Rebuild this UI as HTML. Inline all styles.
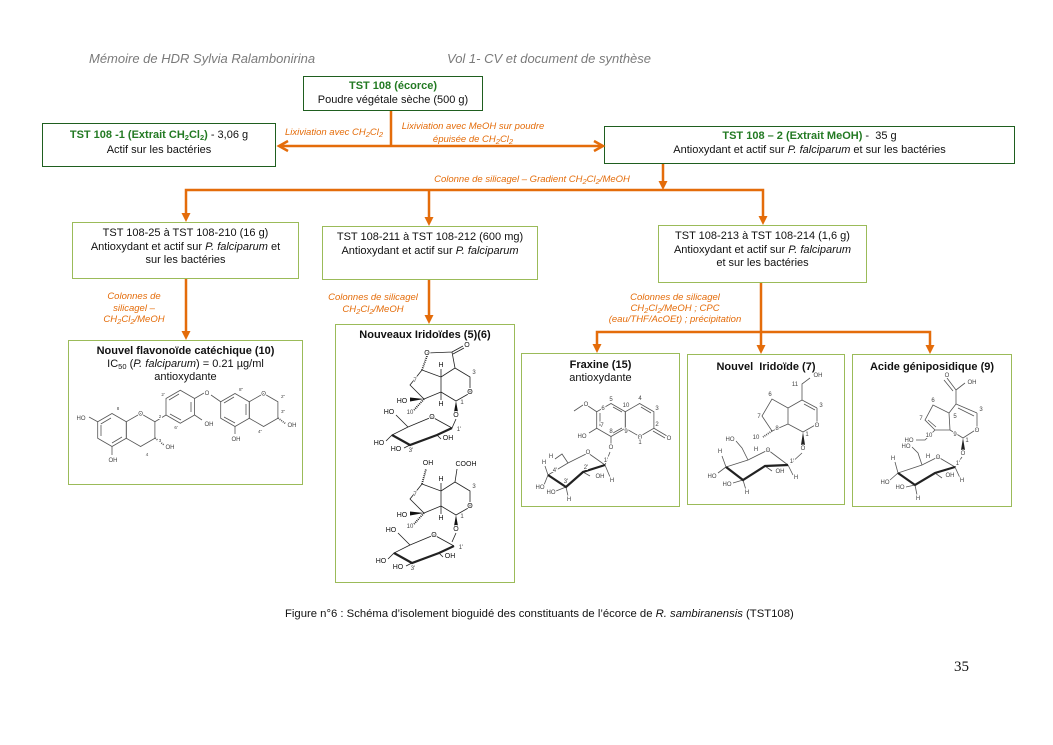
<!DOCTYPE html>
<html><head><meta charset="utf-8">
<style>
html,body{margin:0;padding:0;background:#fff;}
body{width:1053px;height:745px;position:relative;overflow:hidden;font-family:"Liberation Sans",Arial,sans-serif;color:#111;}
.a{position:absolute;}
.hdr{font-style:italic;font-size:13px;color:#7a7a7a;line-height:16px;white-space:nowrap;}
.box{position:absolute;box-sizing:border-box;text-align:center;font-size:11px;white-space:nowrap;}
.dk{border:1.5px solid #1f5e1f;}
.lt{border:1px solid #9bbb59;}
.g{color:#237a23;font-weight:bold;}
.b{font-weight:bold;}
sub{font-size:7.5px;line-height:0;vertical-align:-2px;}
.lab{position:absolute;text-align:center;font-style:italic;font-size:9.5px;color:#e46c0a;white-space:nowrap;}
svg{position:absolute;left:0;top:0;}
.t{font-family:"Liberation Sans",Arial,sans-serif;font-size:6px;fill:#444;text-anchor:middle;paint-order:stroke;stroke:#fff;stroke-width:2px;}
.tb{font-family:"Liberation Sans",Arial,sans-serif;font-size:7px;fill:#111;text-anchor:middle;paint-order:stroke;stroke:#fff;stroke-width:2px;}
</style></head><body>

<div class="a hdr" style="left:89px;top:51px;">Mémoire de HDR Sylvia Ralambonirina</div>
<div class="a hdr" style="left:447px;top:51px;">Vol 1- CV et document de synthèse</div>

<!-- top boxes -->
<div class="box dk" style="left:303px;top:76px;width:180px;height:35px;line-height:14px;padding-top:2px;">
<span class="g">TST 108 (écorce)</span><br>Poudre végétale sèche (500 g)</div>

<div class="box dk" style="left:42px;top:123px;width:234px;height:44px;line-height:15px;padding-top:4px;">
<span class="g">TST 108 -1 (Extrait CH<sub>2</sub>Cl<sub>2</sub>)</span> - 3,06 g<br>Actif sur les bactéries</div>

<div class="box dk" style="left:604px;top:126px;width:411px;height:38px;line-height:14px;padding-top:2px;">
<span class="g">TST 108 – 2 (Extrait MeOH)</span> -&nbsp; 35 g<br>Antioxydant et actif sur <i>P. falciparum</i> et sur les bactéries</div>

<!-- middle boxes -->
<div class="box lt" style="left:72px;top:222px;width:227px;height:57px;line-height:13.5px;padding-top:4px;">
TST 108-25 à TST 108-210 (16 g)<br>Antioxydant et actif sur <i>P. falciparum</i> et<br>sur les bactéries</div>

<div class="box lt" style="left:322px;top:226px;width:216px;height:54px;line-height:13.5px;padding-top:4px;">
TST 108-211 à TST 108-212 (600 mg)<br>Antioxydant et actif sur <i>P. falciparum</i></div>

<div class="box lt" style="left:658px;top:225px;width:209px;height:58px;line-height:13.5px;padding-top:4px;">
TST 108-213 à TST 108-214 (1,6 g)<br>Antioxydant et actif sur <i>P. falciparum</i><br>et sur les bactéries</div>

<!-- bottom boxes -->
<div class="box lt" style="left:68px;top:340px;width:235px;height:145px;line-height:13px;padding-top:4px;">
<span class="b">Nouvel flavonoïde catéchique (10)</span><br>IC<sub>50</sub> (<i>P. falciparum</i>) = 0.21 µg/ml<br>antioxydante</div>

<div class="box lt" style="left:335px;top:324px;width:180px;height:259px;line-height:14px;padding-top:3px;">
<span class="b">Nouveaux Iridoïdes (5)(6)</span></div>

<div class="box lt" style="left:521px;top:353px;width:159px;height:154px;line-height:12.5px;padding-top:5px;">
<span class="b">Fraxine (15)</span><br>antioxydante</div>

<div class="box lt" style="left:687px;top:354px;width:158px;height:151px;line-height:13px;padding-top:6px;">
<span class="b">Nouvel&nbsp; Iridoïde (7)</span></div>

<div class="box lt" style="left:852px;top:354px;width:160px;height:153px;line-height:13px;padding-top:6px;">
<span class="b">Acide géniposidique (9)</span></div>

<!-- orange labels -->
<div class="lab" style="left:274px;top:127px;width:120px;line-height:12px;">Lixiviation avec CH<sub>2</sub>Cl<sub>2</sub></div>
<div class="lab" style="left:393px;top:119.5px;width:160px;line-height:13.5px;">Lixiviation avec MeOH sur poudre<br>épuisée de CH<sub>2</sub>Cl<sub>2</sub></div>
<div class="lab" style="left:412px;top:174px;width:240px;line-height:12px;">Colonne de silicagel – Gradient CH<sub>2</sub>Cl<sub>2</sub>/MeOH</div>
<div class="lab" style="left:84px;top:291px;width:100px;line-height:11.7px;">Colonnes de<br>silicagel –<br>CH<sub>2</sub>Cl<sub>2</sub>/MeOH</div>
<div class="lab" style="left:313px;top:292px;width:120px;line-height:12px;">Colonnes de silicagel<br>CH<sub>2</sub>Cl<sub>2</sub>/MeOH</div>
<div class="lab" style="left:590px;top:291.5px;width:170px;line-height:11px;">Colonnes de silicagel<br>CH<sub>2</sub>Cl<sub>2</sub>/MeOH ; CPC<br>(eau/THF/AcOEt) ; précipitation</div>

<div class="a" style="left:285px;top:607px;font-size:11.3px;line-height:14px;white-space:nowrap;color:#111;">Figure n°6 : Schéma d’isolement bioguidé des constituants de l’écorce de <i>R. sambiranensis</i> (TST108)</div>
<div class="a" style="left:954px;top:658px;font-family:'Liberation Serif',serif;font-size:15px;line-height:18px;color:#111;">35</div>

<svg width="1053" height="745" viewBox="0 0 1053 745">
<!-- connectors -->
<g stroke="#e46c0a" stroke-width="2.5" fill="none" stroke-linejoin="miter">
<line x1="391" y1="111" x2="391" y2="146"/>
<line x1="280" y1="146" x2="602" y2="146"/>
<polyline points="288,141 279,146 288,151"/>
<polyline points="594,141 603,146 594,151"/>
<line x1="663" y1="164" x2="663" y2="183"/>
<polyline points="186,215 186,190 763,190 763,218"/>
<line x1="429" y1="190" x2="429" y2="219"/>
<line x1="186" y1="279" x2="186" y2="333"/>
<line x1="429" y1="280" x2="429" y2="317"/>
<line x1="761" y1="283" x2="761" y2="347"/>
<polyline points="597,346 597,332 930,332 930,347"/>
</g>
<g fill="#e46c0a">
<polygon points="658.5,181 667.5,181 663,190"/>
<polygon points="181.5,213 190.5,213 186,222"/>
<polygon points="424.5,217 433.5,217 429,226"/>
<polygon points="758.5,216 767.5,216 763,225"/>
<polygon points="181.5,331 190.5,331 186,340"/>
<polygon points="424.5,315 433.5,315 429,324"/>
<polygon points="756.5,345 765.5,345 761,354"/>
<polygon points="592.5,344 601.5,344 597,353"/>
<polygon points="925.5,345 934.5,345 930,354"/>
</g>

<!-- Flavonoid -->
<g stroke="#555" stroke-width="0.8" fill="none">
<polygon transform="translate(112,430)" points="0,-16.5 14.3,-8.25 14.3,8.25 0,16.5 -14.3,8.25 -14.3,-8.25"/>
<polygon transform="translate(140.6,430)" points="0,-16.5 14.3,-8.25 14.3,8.25 0,16.5 -14.3,8.25 -14.3,-8.25"/>
<polygon transform="translate(180.3,406.75)" points="0,-16.5 14.3,-8.25 14.3,8.25 0,16.5 -14.3,8.25 -14.3,-8.25"/>
<polygon transform="translate(235,410)" points="0,-16.5 14.3,-8.25 14.3,8.25 0,16.5 -14.3,8.25 -14.3,-8.25"/>
<polygon transform="translate(263.6,410)" points="0,-16.5 14.3,-8.25 14.3,8.25 0,16.5 -14.3,8.25 -14.3,-8.25"/>
<path d="M100.8,424 L111,418 M101,425 L101,436 M112,443 L122,437 M169,400 L179,394 M191,402 L191,412 M181,420 L170,414 M224,403 L234,397 M246,404 L246,415 M235,423 L224,417"/>
<path d="M97.7,421.75 L89,417 M112,446.5 L112,455 M154.9,421.75 L166,415 M194.6,415 L202,420 M194.6,398.5 L204,393 M211,395 L220.7,401.75 M235,426.5 L235,434"/>
<path d="M155,438 L164,445 M278,418 L286,424" stroke-dasharray="1,1" stroke-width="1.6"/>
</g>
<g>
<text class="t" x="81" y="420">HO</text>
<text class="t" x="113" y="462">OH</text>
<text class="t" x="170" y="449">OH</text>
<text class="t" x="209" y="426">OH</text>
<text class="t" x="207" y="395">O</text>
<text class="t" x="140.6" y="415.5">O</text>
<text class="t" x="263.6" y="395.5">O</text>
<text class="t" x="292" y="427">OH</text>
<text class="t" x="236" y="441">OH</text>
<text class="t" x="118" y="410" style="font-size:4.5px">8</text>
<text class="t" x="160" y="418" style="font-size:4.5px">2</text>
<text class="t" x="160" y="442" style="font-size:4.5px">3</text>
<text class="t" x="147" y="456" style="font-size:4.5px">4</text>
<text class="t" x="163" y="396" style="font-size:4.5px">2'</text>
<text class="t" x="176" y="429" style="font-size:4.5px">6'</text>
<text class="t" x="241" y="391" style="font-size:4.5px">8"</text>
<text class="t" x="283" y="398" style="font-size:4.5px">2"</text>
<text class="t" x="283" y="413" style="font-size:4.5px">3"</text>
<text class="t" x="260" y="433" style="font-size:4.5px">4"</text>
</g>

<!-- Iridoid 5 (top) -->
<g stroke="#222" stroke-width="0.8" fill="none">
<path d="M427,353 L452,352 L455,368 M452,352 L463,346 M453,354 L464,348 M422,370 L410,385 L424,399 L441,392 L441,377 L422,370 M441,377 L455,368 L470,377 L470,393 L456,401 L441,392 M441,377 L441,369 M441,392 L441,400 M456,419 L452,428"/>
<path d="M427,356 L422,370 M424,399 L414,410" stroke-dasharray="1,1" stroke-width="1.8"/>
<path d="M408,427 L432,417 L452,428 M410,445 L392,435 L408,427 M408,427 L400,419 L396,415 M392,435 L386,441 M410,445 L404,448 M437,435 L441,439"/>
<path d="M392,435 L410,445 L437,435 L452,428" stroke-width="2.2"/>
</g>
<g fill="#111">
<polygon points="424,399 410,397.5 410,401.5"/>
<polygon points="456,401 454,412 458,412"/>
<text class="tb" x="427" y="355">O</text>
<text class="tb" x="467" y="347">O</text>
<text class="tb" x="441" y="367">H</text>
<text class="tb" x="441" y="406">H</text>
<text class="tb" x="402" y="403">HO</text>
<text class="t" x="410" y="414">10</text>
<text class="tb" x="470" y="394">O</text>
<text class="tb" x="456" y="417">O</text>
<text class="tb" x="432" y="419">O</text>
<text class="tb" x="389" y="414">HO</text>
<text class="tb" x="379" y="445">HO</text>
<text class="tb" x="396" y="451">HO</text>
<text class="tb" x="448" y="440">OH</text>
<text class="t" x="474" y="374">3</text>
<text class="t" x="462" y="404">1</text>
<text class="t" x="415" y="382">7</text>
<text class="t" x="459" y="431">1'</text>
<text class="t" x="411" y="452">3'</text>
</g>

<!-- Iridoid 6 (bottom) -->
<g transform="translate(0,114)">
<g stroke="#222" stroke-width="0.8" fill="none">
<path d="M422,370 L410,385 L424,399 L441,392 L441,377 L422,370 M441,377 L455,368 L470,377 L470,393 L456,401 L441,392 M441,377 L441,369 M441,392 L441,400 M455,368 L457,355 M456,419 L452,428"/>
<path d="M422,370 L426,355 M424,399 L414,410" stroke-dasharray="1,1" stroke-width="1.8"/>
</g>
<g fill="#111">
<polygon points="424,399 410,397.5 410,401.5"/>
<polygon points="456,401 454,412 458,412"/>
<text class="tb" x="428" y="351">OH</text>
<text class="tb" x="466" y="352">COOH</text>
<text class="tb" x="441" y="367">H</text>
<text class="tb" x="441" y="406">H</text>
<text class="tb" x="402" y="403">HO</text>
<text class="t" x="410" y="414">10</text>
<text class="tb" x="470" y="394">O</text>
<text class="tb" x="456" y="417">O</text>
<text class="t" x="415" y="382">7</text>
<text class="t" x="474" y="374">3</text>
<text class="t" x="462" y="404">1</text>
</g>
</g>
<g transform="translate(2,118)">
<g stroke="#222" stroke-width="0.8" fill="none">
<path d="M408,427 L432,417 L452,428 M410,445 L392,435 L408,427 M408,427 L400,419 L396,415 M392,435 L386,441 M410,445 L404,448 M437,435 L441,439"/>
<path d="M392,435 L410,445 L437,435 L452,428" stroke-width="2.2"/>
</g>
<g>
<text class="tb" x="432" y="419">O</text>
<text class="tb" x="389" y="414">HO</text>
<text class="tb" x="379" y="445">HO</text>
<text class="tb" x="396" y="451">HO</text>
<text class="tb" x="448" y="440">OH</text>
<text class="t" x="459" y="431">1'</text>
<text class="t" x="411" y="452">3'</text>
</g>
</g>

<!-- Fraxine -->
<g stroke="#555" stroke-width="0.8" fill="none">
<polygon transform="translate(611,420)" points="0,-16.5 14.3,-8.25 14.3,8.25 0,16.5 -14.3,8.25 -14.3,-8.25"/>
<polygon transform="translate(639.6,420)" points="0,-16.5 14.3,-8.25 14.3,8.25 0,16.5 -14.3,8.25 -14.3,-8.25"/>
<path d="M613,407 L622,412 M600,413 L600,426 M613,433 L622,428 M641,407 L651,413 M653.9,428.25 L667,436 M653,431 L665,438"/>
<path d="M596.7,411.75 L588,406 M583,405 L574,411 M596.7,428.25 L589,433 M611,436.5 L611,445 M610,452 L605,465"/>
<path d="M605,465 L588,453 L568,463 L548,475 M605,465 L610,477 M583,472 L590,476 M566,487 L568,496 M566,487 L556,491 M548,475 L544,485 M548,475 L545,466 M568,463 L562,454 L555,459"/>
<path d="M548,475 L566,487 L583,472 L605,465" stroke-width="2.2" stroke="#222"/>
</g>
<g>
<text class="t" x="586" y="406">O</text>
<text class="t" x="582" y="438">HO</text>
<text class="t" x="611" y="449">O</text>
<text class="t" x="640" y="439">O</text>
<text class="t" x="669" y="440">O</text>
<text class="t" x="611" y="401">5</text>
<text class="t" x="626" y="407">10</text>
<text class="t" x="640" y="400">4</text>
<text class="t" x="657" y="410">3</text>
<text class="t" x="657" y="426">2</text>
<text class="t" x="603" y="410">6</text>
<text class="t" x="602" y="427">7</text>
<text class="t" x="611" y="433">8</text>
<text class="t" x="626" y="433">9</text>
<text class="t" x="640" y="444">1</text>
<text class="t" x="612" y="482">H</text>
<text class="t" x="600" y="478">OH</text>
<text class="t" x="569" y="501">H</text>
<text class="t" x="551" y="494">HO</text>
<text class="t" x="540" y="489">HO</text>
<text class="t" x="544" y="464">H</text>
<text class="t" x="551" y="458">H</text>
<text class="t" x="588" y="454">O</text>
<text class="t" x="606" y="462">1'</text>
<text class="t" x="586" y="469">2'</text>
<text class="t" x="566" y="483">3'</text>
<text class="t" x="555" y="472">4'</text>
</g>

<!-- Nouvel Iridoide 7 -->
<g stroke="#555" stroke-width="0.8" fill="none">
<path d="M802,400 L802,384 L810,378 M802,400 L817,408 M804,404 L815,410 M817,408 L817,424 M817,424 L803,432 L788,424 L788,408 L802,400 M788,408 L772,399 L762,416 L772,431 L788,424 M802,453 L790,464"/>
<path d="M772,431 L763,437" stroke-dasharray="1,1" stroke-width="1.8"/>
<path d="M788,465 L768,450 L748,460 L726,467 M788,465 L793,475 M765,466 L772,471 M743,480 L746,490 M743,480 L733,483 M726,467 L718,473 M726,467 L722,456 M748,460 L742,448 L736,441"/>
<path d="M726,467 L743,480 L765,466 L788,465" stroke-width="2.2" stroke="#222"/>
</g>
<g>
<polygon points="803,432 801,445 805,445" fill="#222"/>
<text class="t" x="818" y="377">OH</text>
<text class="t" x="795" y="386">11</text>
<text class="t" x="821" y="407">3</text>
<text class="t" x="817" y="427">O</text>
<text class="t" x="807" y="436">1</text>
<text class="t" x="770" y="396">6</text>
<text class="t" x="759" y="418">7</text>
<text class="t" x="777" y="430">8</text>
<text class="t" x="756" y="439">10</text>
<text class="t" x="803" y="450">O</text>
<text class="t" x="768" y="452">O</text>
<text class="t" x="792" y="463">1'</text>
<text class="t" x="796" y="479">H</text>
<text class="t" x="780" y="473">OH</text>
<text class="t" x="747" y="494">H</text>
<text class="t" x="727" y="486">HO</text>
<text class="t" x="712" y="478">HO</text>
<text class="t" x="720" y="453">H</text>
<text class="t" x="730" y="441">HO</text>
<text class="t" x="756" y="451">H</text>
</g>

<!-- Acide geniposidique 9 -->
<g stroke="#555" stroke-width="0.8" fill="none">
<path d="M956,404 L956,390 L947,378 M953,391 L944,380 M956,390 L965,383 M956,404 L977,413 M958,408 L974,416 M977,413 L977,429 M977,429 L963,438 L950,430 L949,413 L956,404 M949,413 L933,405 L925,420 L935,430 L950,430 M928,420 L936,427 M935,430 L925,440 L916,440 M962,457 L955,467"/>
<path d="M955,467 L938,457 L922,465 L898,473 M955,467 L960,478 M935,473 L942,478 M915,485 L917,495 M915,485 L906,487 M898,473 L890,480 M898,473 L895,462 M922,465 L918,453 L912,447"/>
<path d="M898,473 L915,485 L935,473 L955,467" stroke-width="2.2" stroke="#222"/>
</g>
<g>
<polygon points="963,438 961,450 965,450" fill="#222"/>
<text class="t" x="947" y="377">O</text>
<text class="t" x="972" y="384">OH</text>
<text class="t" x="981" y="411">3</text>
<text class="t" x="977" y="432">O</text>
<text class="t" x="967" y="442">1</text>
<text class="t" x="933" y="402">6</text>
<text class="t" x="921" y="420">7</text>
<text class="t" x="955" y="418">5</text>
<text class="t" x="955" y="436">9</text>
<text class="t" x="929" y="437">10</text>
<text class="t" x="909" y="442">HO</text>
<text class="t" x="963" y="455">O</text>
<text class="t" x="938" y="459">O</text>
<text class="t" x="958" y="465">1'</text>
<text class="t" x="962" y="482">H</text>
<text class="t" x="950" y="477">OH</text>
<text class="t" x="918" y="500">H</text>
<text class="t" x="900" y="489">HO</text>
<text class="t" x="885" y="484">HO</text>
<text class="t" x="893" y="460">H</text>
<text class="t" x="906" y="448">HO</text>
<text class="t" x="928" y="458">H</text>
</g>
</svg>
</body></html>
